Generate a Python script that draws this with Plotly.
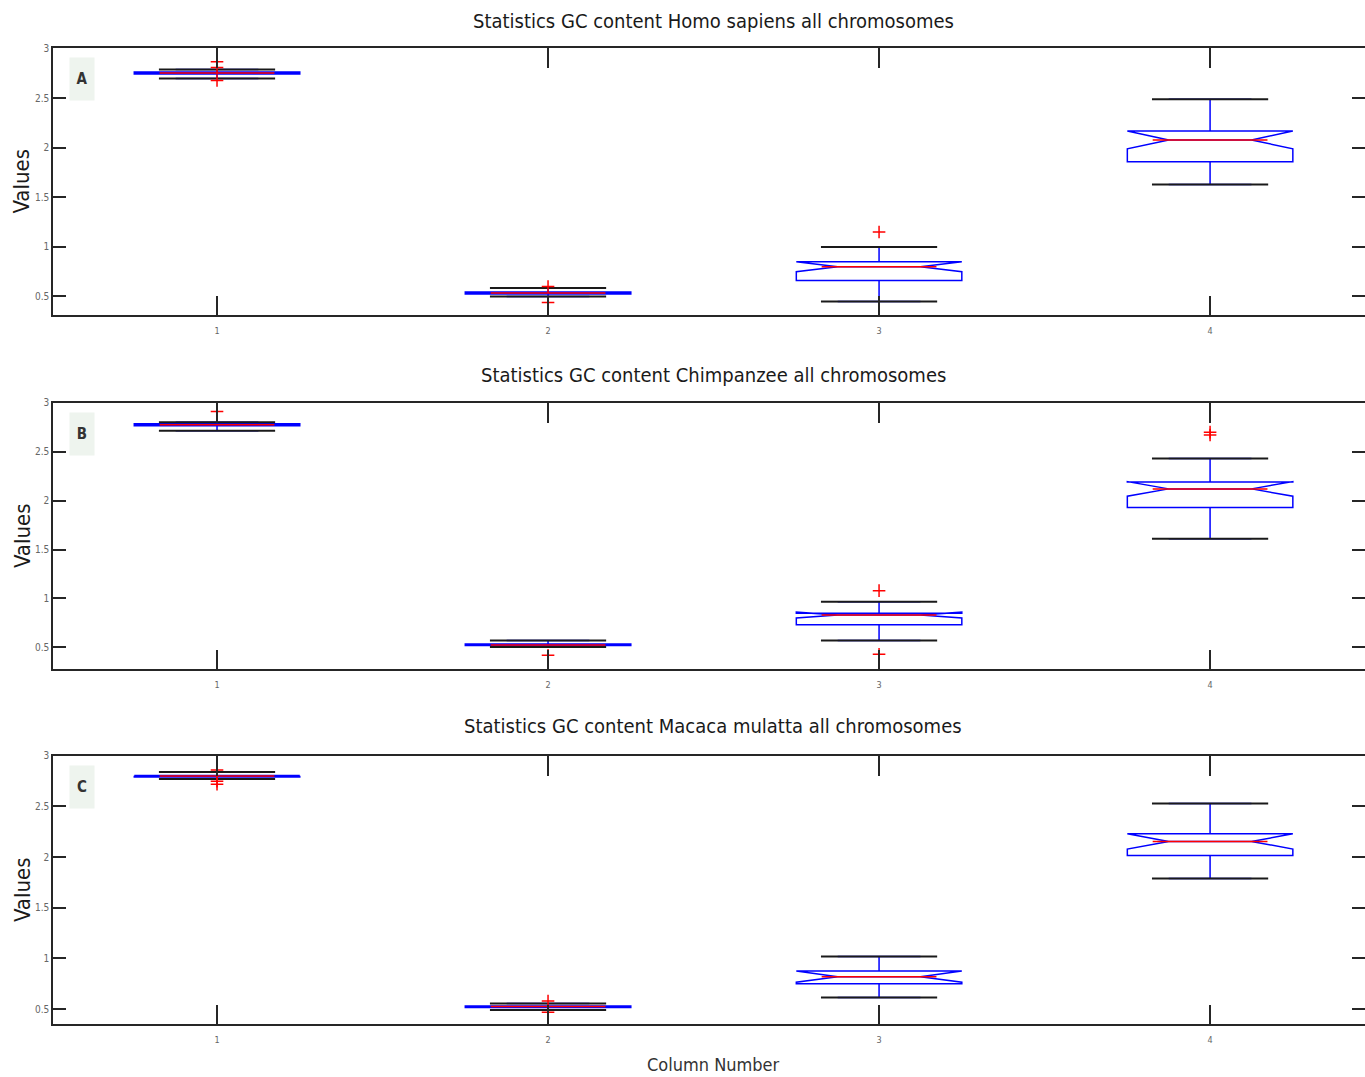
import plotly.graph_objects as go

# ---------------- data ----------------
columns = [1, 2, 3, 4]
tick_labels = ["1", "2", "3", "4"]
y_tick_vals = [0.5, 1, 1.5, 2, 2.5, 3]
y_tick_text = ["0.5", "1", "1.5", "2", "2.5", "3"]

titles = ["Statistics GC content Homo sapiens all chromosomes",
          "Statistics GC content Chimpanzee all chromosomes",
          "Statistics GC content Macaca mulatta all chromosomes"]
panel_letters = ["A", "B", "C"]
x_title = "Column Number"
y_title = "Values"

# Homo sapiens
human_q1 = [2.745, 0.525, 0.66, 1.86]
human_median = [2.755, 0.535, 0.80, 2.08]
human_q3 = [2.765, 0.545, 0.85, 2.17]
human_lower = [2.70, 0.50, 0.45, 1.63]
human_upper = [2.79, 0.585, 1.00, 2.49]
human_notch = [0.006, 0.006, 0.05, 0.09]
human_out_x = [1, 1, 1, 2, 2, 3]
human_out_y = [2.87, 2.81, 2.68, 0.60, 0.44, 1.15]

# Chimpanzee
chimp_q1 = [2.765, 0.52, 0.73, 1.93]
chimp_median = [2.775, 0.525, 0.83, 2.12]
chimp_q3 = [2.785, 0.535, 0.85, 2.19]
chimp_lower = [2.715, 0.503, 0.57, 1.61]
chimp_upper = [2.80, 0.571, 0.967, 2.43]
chimp_notch = [0.006, 0.004, 0.03, 0.075]
chimp_out_x = [1, 2, 3, 3, 4, 4]
chimp_out_y = [2.91, 0.42, 1.08, 0.43, 2.67, 2.70]

# Macaca mulatta
macaque_q1 = [2.79, 0.515, 0.75, 2.015]
macaque_median = [2.80, 0.525, 0.82, 2.155]
macaque_q3 = [2.805, 0.53, 0.875, 2.23]
macaque_lower = [2.77, 0.49, 0.615, 1.79]
macaque_upper = [2.84, 0.555, 1.02, 2.53]
macaque_notch = [0.005, 0.004, 0.055, 0.075]
macaque_out_x = [1, 1, 1, 2, 2]
macaque_out_y = [2.86, 2.75, 2.72, 0.58, 0.47]

panels = [
    (human_q1, human_median, human_q3, human_lower, human_upper, human_notch, human_out_x, human_out_y),
    (chimp_q1, chimp_median, chimp_q3, chimp_lower, chimp_upper, chimp_notch, chimp_out_x, chimp_out_y),
    (macaque_q1, macaque_median, macaque_q3, macaque_lower, macaque_upper, macaque_notch, macaque_out_x, macaque_out_y),
]

# ---------------- layout constants (style) ----------------
W, H = 1365, 1077
plot_left = 53
panel_px = [(42, 311), (399, 667), (754, 1024)]   # top, bottom pixel of each plot area
y_ranges = [[0.31, 3.01], [0.276, 3.0], [0.35, 3.0]]
x_range = [0.5045, 4.468]
title_y_px = [15, 371, 724]

FONT = "Liberation Sans Narrow, DejaVu Sans Condensed, Arial Narrow, sans-serif"
AXC = "#262626"
BLUE = "#0000ff"
RED = "#ff0000"

fig = go.Figure()

for i, (q1, med, q3, lo, up, nsp, ox, oy) in enumerate(panels):
    xa = "x" if i == 0 else f"x{i+1}"
    ya = "y" if i == 0 else f"y{i+1}"
    fig.add_trace(go.Box(
        x=columns, q1=q1, median=med, q3=q3, lowerfence=lo, upperfence=up,
        notchspan=nsp, notched=True, notchwidth=0.25, width=0.5, whiskerwidth=0.5,
        boxpoints=False, line=dict(color=BLUE, width=1.5),
        fillcolor="rgba(0,0,0,0)", xaxis=xa, yaxis=ya, showlegend=False,
        hoverinfo="skip"))
    # black whisker caps
    fig.add_trace(go.Scatter(
        x=columns + columns, y=lo + up, mode="markers",
        marker=dict(symbol="line-ew", size=83, line=dict(color="#1a1a1a", width=2)),
        xaxis=xa, yaxis=ya, showlegend=False, hoverinfo="skip"))
    # red median lines
    fig.add_trace(go.Scatter(
        x=columns, y=med, mode="markers",
        marker=dict(symbol="line-ew", size=82, line=dict(color=RED, width=1.5)),
        xaxis=xa, yaxis=ya, showlegend=False, hoverinfo="skip"))
    # outliers
    fig.add_trace(go.Scatter(
        x=ox, y=oy, mode="markers",
        marker=dict(symbol="cross-thin", size=9, line=dict(color=RED, width=1.5)),
        xaxis=xa, yaxis=ya, showlegend=False, hoverinfo="skip"))

layout = dict(
    width=W, height=H, margin=dict(l=0, r=0, t=0, b=0),
    paper_bgcolor="white", plot_bgcolor="white",
    font=dict(family=FONT, color="#222"),
)

for i in range(3):
    top, bot = panel_px[i]
    xk = "xaxis" if i == 0 else f"xaxis{i+1}"
    yk = "yaxis" if i == 0 else f"yaxis{i+1}"
    rk = f"yaxis{i+4}"
    ya = "y" if i == 0 else f"y{i+1}"
    xa = "x" if i == 0 else f"x{i+1}"
    dom = [1 - bot / H, 1 - top / H]
    layout[xk] = dict(
        domain=[plot_left / W, 1.0], anchor=ya, range=x_range,
        tickvals=columns, ticktext=tick_labels, ticks="inside", ticklen=20,
        tickwidth=1.5, tickcolor=AXC, showline=True, linecolor=AXC, linewidth=1.5,
        mirror="ticks", showgrid=False, zeroline=False, ticklabelstandoff=6,
        tickfont=dict(size=9, color="#666", family=FONT))
    layout[yk] = dict(
        domain=dom, anchor=xa, range=y_ranges[i],
        tickvals=y_tick_vals, ticktext=y_tick_text, ticks="inside", ticklen=13,
        tickwidth=1.5, tickcolor=AXC, showline=True, linecolor=AXC, linewidth=1.5,
        mirror=False, showgrid=False, zeroline=False,
        tickfont=dict(size=10, color="#666", family=FONT))
    # right-side ticks only (the frame's right edge lies beyond the picture)
    layout[rk] = dict(
        domain=dom, anchor=xa, overlaying=ya, side="right", range=y_ranges[i],
        tickvals=y_tick_vals, ticks="inside", ticklen=13, tickwidth=1.5,
        tickcolor=AXC, showline=False, showticklabels=False, showgrid=False,
        zeroline=False)

fig.update_layout(**layout)

# invisible trace so the right-hand tick axes are drawn
for i in range(3):
    fig.add_trace(go.Scatter(x=[None], y=[None], xaxis="x" if i == 0 else f"x{i+1}",
                             yaxis=f"y{i+4}", showlegend=False, hoverinfo="skip"))

annotations = []
for i in range(3):
    top, bot = panel_px[i]
    annotations.append(dict(
        text=titles[i], x=713 / W, y=1 - title_y_px[i] / H, xref="paper", yref="paper",
        xanchor="center", yanchor="middle", showarrow=False,
        font=dict(size=20, color="#1a1a1a", family=FONT)))
    annotations.append(dict(
        text=y_title, x=22 / W, y=1 - (top + bot) / 2 / H, xref="paper", yref="paper",
        xanchor="center", yanchor="middle", showarrow=False, textangle=-90,
        font=dict(size=22, color="#1a1a1a", family=FONT)))
    annotations.append(dict(
        text="<b>" + panel_letters[i] + "</b>", x=82 / W, y=1 - (top + 31) / H,
        xref="paper", yref="paper", xanchor="center", yanchor="middle",
        showarrow=False, width=22, height=40, bgcolor="#eef4ee",
        font=dict(size=15, color="#333", family=FONT)))
annotations.append(dict(
    text=x_title, x=713 / W, y=1 - 1064 / H, xref="paper", yref="paper",
    xanchor="center", yanchor="middle", showarrow=False,
    font=dict(size=18, color="#333", family=FONT)))
fig.update_layout(annotations=annotations)

fig.write_html("out.html")
